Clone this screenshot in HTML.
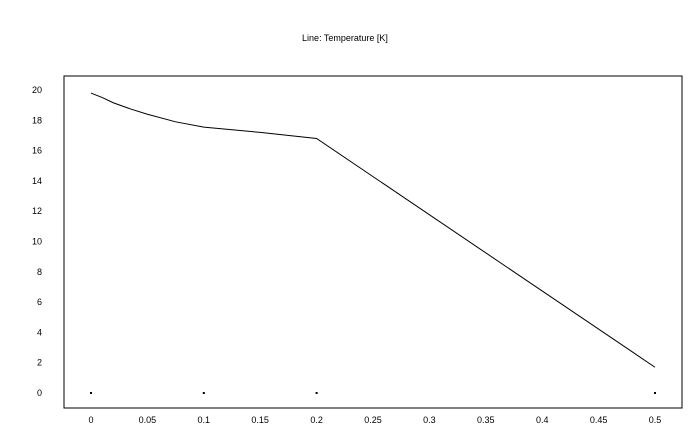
<!DOCTYPE html>
<html><head><meta charset="utf-8"><style>
body{margin:0;background:#fff;}
svg{display:block;font-family:"Liberation Sans",sans-serif;}
</style></head><body>
<svg id="chart" width="696" height="430">
<text x="345" y="41" font-size="9" text-anchor="middle">Line: Temperature [K]</text>
<rect x="64" y="76" width="618" height="332" fill="none" stroke="#000" stroke-width="1"/>
<g id="axes"></g>
<g id="marks"></g>
</svg>
<script>
const xVals=[0,0.01,0.02,0.035,0.05,0.075,0.1,0.15,0.2,0.5];
const yVals=[19.8,19.5,19.15,18.75,18.4,17.9,17.55,17.2,16.8,1.7];
const pointX=[0,0.1,0.2,0.5];
const pointY=[0,0,0,0];
const xTicks=[0,0.05,0.1,0.15,0.2,0.25,0.3,0.35,0.4,0.45,0.5];
const yTicks=[0,2,4,6,8,10,12,14,16,18,20];
const NS="http://www.w3.org/2000/svg";
function sx(v){return 91+v*1128;}
function sy(v){return 393-v*15.15;}
const axes=document.getElementById('axes'),marks=document.getElementById('marks');
xTicks.forEach(t=>{const e=document.createElementNS(NS,'text');
e.setAttribute('x',sx(t));e.setAttribute('y',423);e.setAttribute('font-size','9');e.setAttribute('text-anchor','middle');


e.textContent=String(t);axes.appendChild(e);});
yTicks.forEach(t=>{const e=document.createElementNS(NS,'text');
e.setAttribute('x',42);e.setAttribute('y',sy(t)+3);e.setAttribute('font-size','9');e.setAttribute('text-anchor','end');


e.textContent=String(t);axes.appendChild(e);});
const p=document.createElementNS(NS,'polyline');
p.setAttribute('points',xVals.map((x,i)=>sx(x)+','+sy(yVals[i])).join(' '));
p.setAttribute('fill','none');p.setAttribute('stroke','#000');p.setAttribute('stroke-width','1');


marks.appendChild(p);
pointX.forEach((x,i)=>{const r=document.createElementNS(NS,'rect');
r.setAttribute('x',sx(x)-1);r.setAttribute('y',sy(pointY[i])-1);r.setAttribute('width',2);r.setAttribute('height',2);r.setAttribute('fill','#000');


marks.appendChild(r);});
</script>
</body></html>
